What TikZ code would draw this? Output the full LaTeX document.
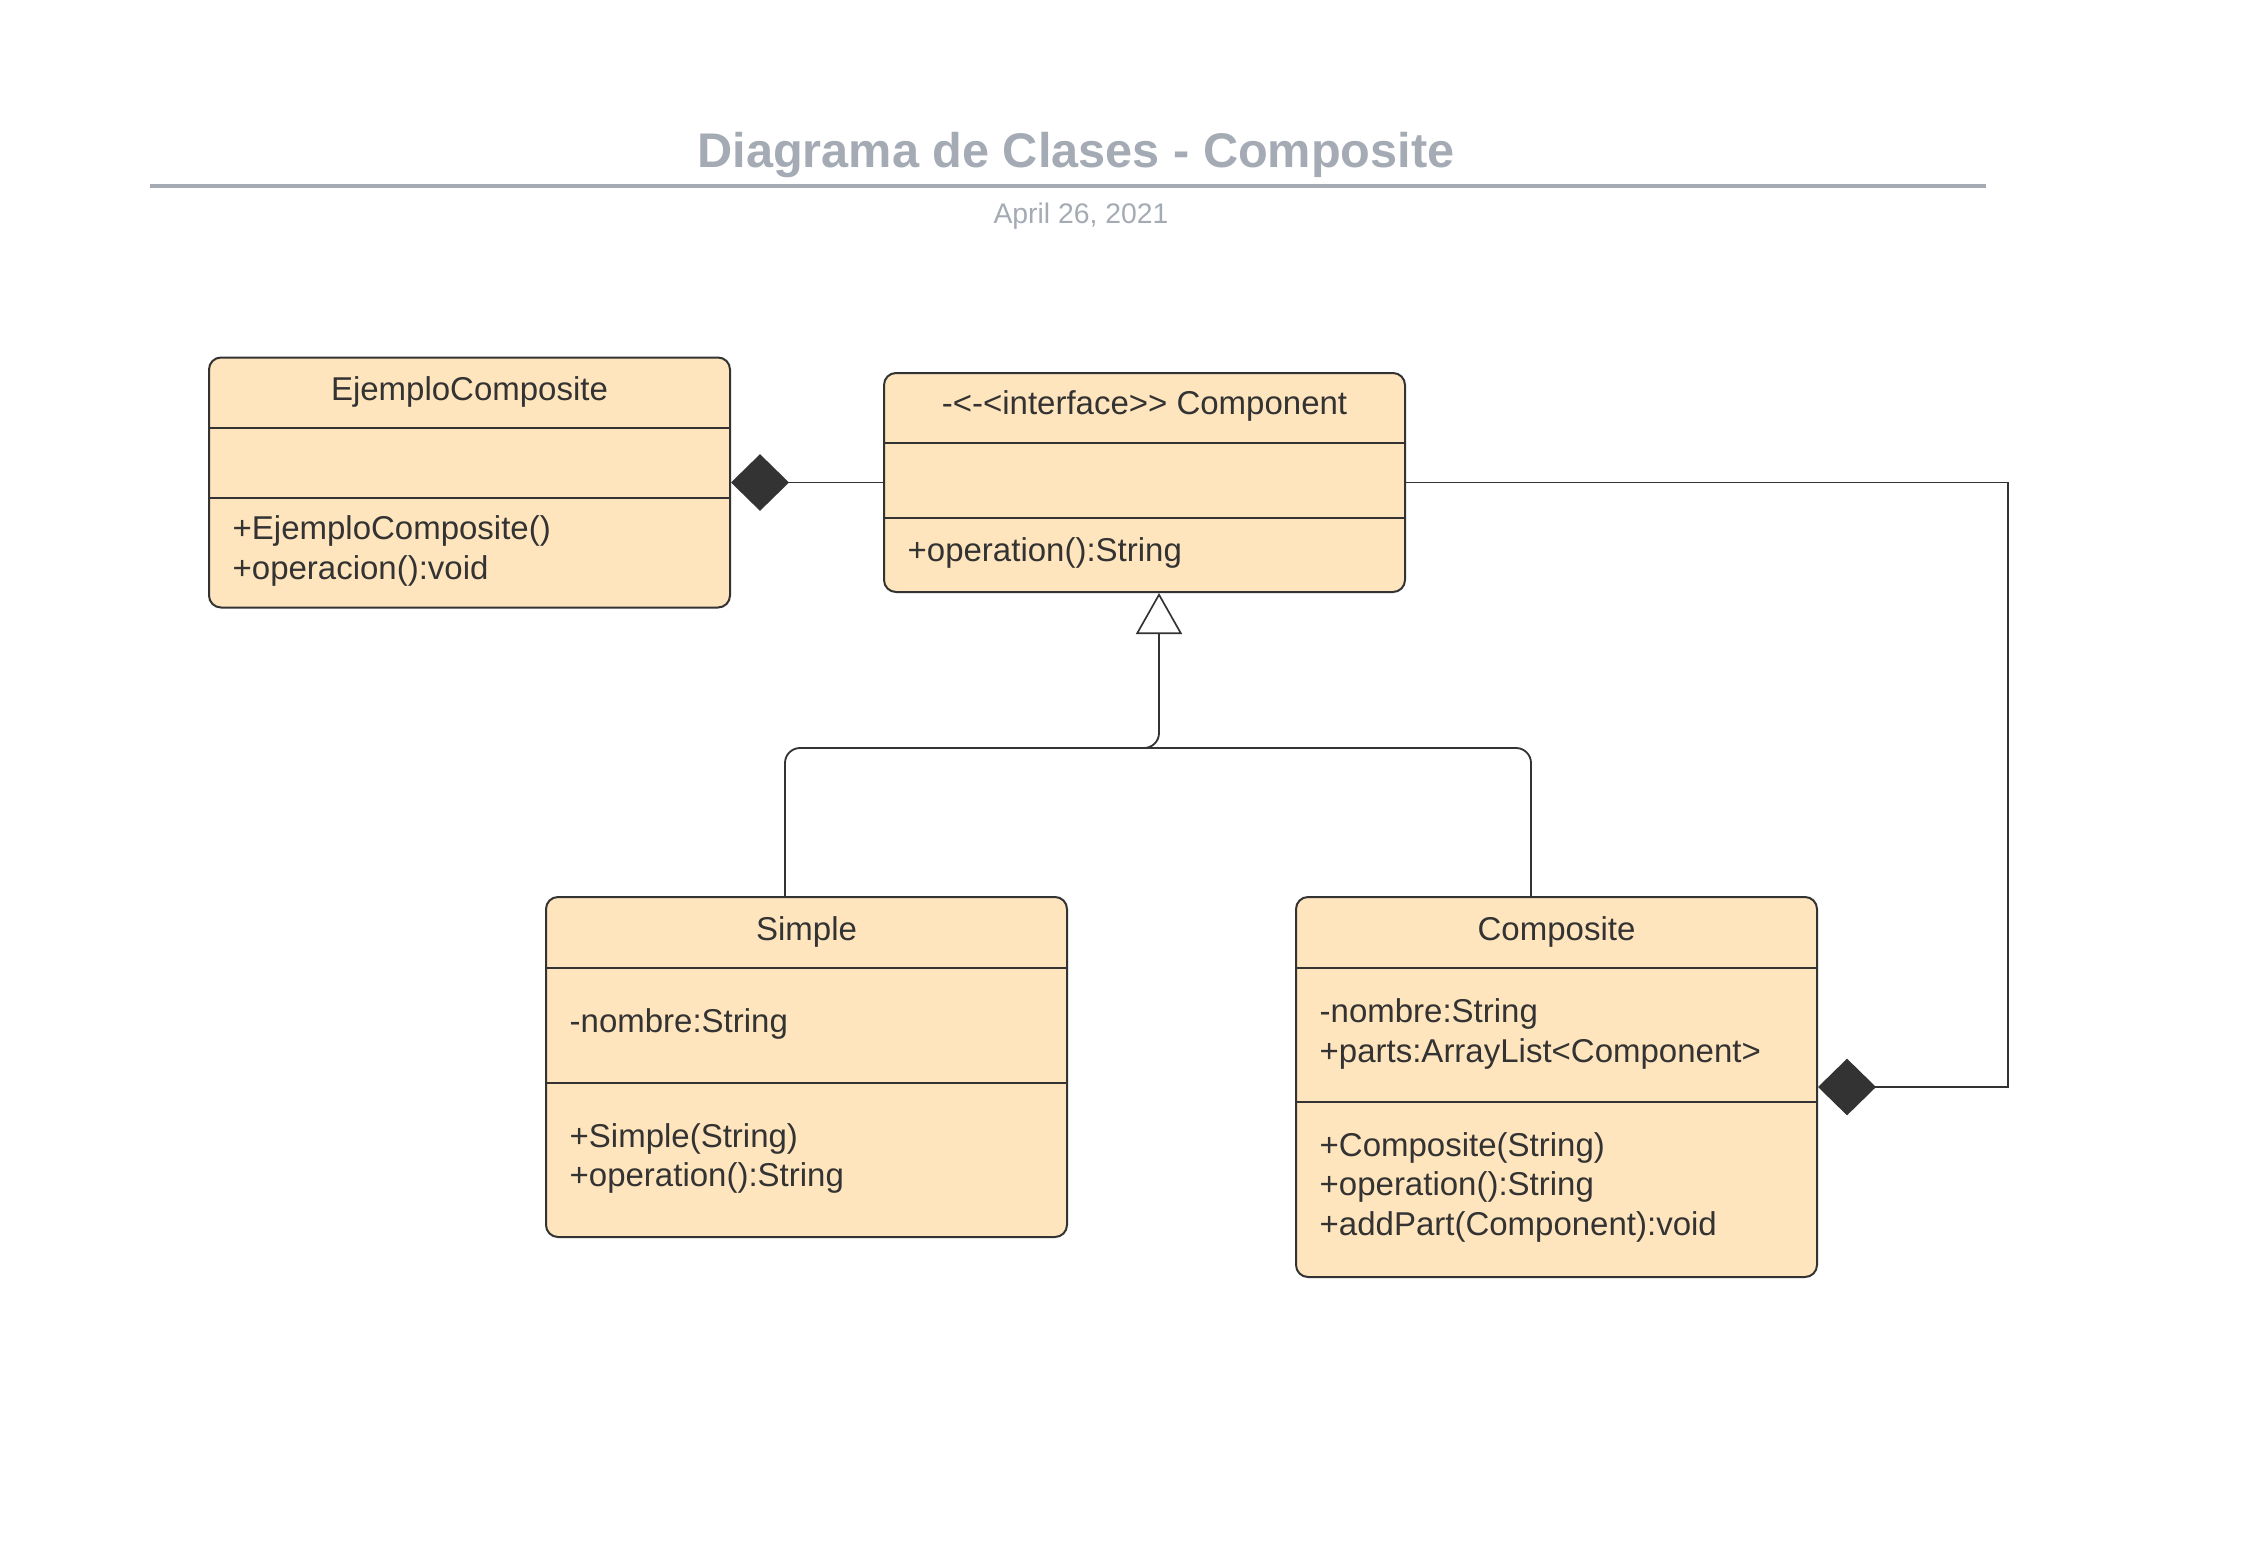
\documentclass[tikz,border=0pt]{standalone}
\usepackage{fontspec}
\setmainfont{Liberation Sans}
\usetikzlibrary{arrows.meta}
\definecolor{boxfill}{HTML}{FFE5BD}
\definecolor{ink}{HTML}{333333}
\definecolor{titlegray}{HTML}{A5ABB4}
\tikzset{
  classbox/.style={draw=ink, fill=boxfill, line width=0.6pt, rounded corners=3.6pt, minimum width=156.3pt, inner sep=0pt},
  divider/.style={draw=ink, line width=0.6pt},
  memb/.style={anchor=base west, inner sep=0pt, text=ink, font=\fontsize{9.9pt}{11pt}\selectfont},
  ctitle/.style={anchor=base, inner sep=0pt, text=ink, font=\fontsize{9.9pt}{11pt}\selectfont},
  conn/.style={draw=ink, line width=0.55pt},
  compo/.style={conn, -{Diamond[length=17.4pt, width=17pt, fill=ink, line width=0.5pt]}},
  gener/.style={conn, rounded corners=4.5pt, -{Triangle[open, length=12.3pt, width=13.8pt, fill=white, line width=0.5pt]}},
}
\begin{document}
\begin{tikzpicture}[x=0.3pt, y=-0.3pt]
\useasboundingbox (0,0) rectangle (2243,1556);

% heading
\node[anchor=base, inner sep=0pt, text=titlegray, font=\fontsize{14.6pt}{16pt}\selectfont\bfseries] (title) at (1076,168) {Diagrama de Clases - Composite};
\coordinate (ruleL) at (150,186);
\coordinate (ruleR) at (1986,186);
\draw[titlegray, line width=1.2pt] (ruleL) -- (ruleR);
\node[anchor=base, inner sep=0pt, text=titlegray, font=\fontsize{8.5pt}{10pt}\selectfont] (date) at (1081,224) {April 26, 2021};

% EjemploComposite
\node[classbox, minimum height=75pt] (ej) at (469.5,482.5) {};
\draw[divider] (ej.west |- 0,428) -- (ej.east |- 0,428);
\draw[divider] (ej.west |- 0,498) -- (ej.east |- 0,498);
\node[ctitle] (ejT) at (469.5,400) {EjemploComposite};
\node[memb] (ejM1) at (232,539) {+EjemploComposite()};
\node[memb] (ejM2) at (232,579) {+operacion():void};

% Component
\node[classbox, minimum height=65.7pt] (comp) at (1144.5,482.5) {};
\draw[divider] (comp.west |- 0,443) -- (comp.east |- 0,443);
\draw[divider] (comp.west |- 0,518) -- (comp.east |- 0,518);
\node[ctitle] (compT) at (1144.5,414) {-<-<interface>{}> Component};
\node[memb] (compM1) at (907,561) {+operation():String};

% Simple
\node[classbox, minimum height=102pt] (simple) at (806.5,1067) {};
\draw[divider] (simple.west |- 0,968) -- (simple.east |- 0,968);
\draw[divider] (simple.west |- 0,1083) -- (simple.east |- 0,1083);
\node[ctitle] (simpleT) at (806.5,940) {Simple};
\node[memb] (simpleA1) at (569,1032) {-nombre:String};
\node[memb] (simpleM1) at (569,1147) {+Simple(String)};
\node[memb] (simpleM2) at (569,1186) {+operation():String};

% Composite
\node[classbox, minimum height=114pt] (cps) at (1556.5,1087) {};
\draw[divider] (cps.west |- 0,968) -- (cps.east |- 0,968);
\draw[divider] (cps.west |- 0,1102) -- (cps.east |- 0,1102);
\node[ctitle] (cpsT) at (1556.5,940) {Composite};
\node[memb] (cpsA1) at (1319,1022) {-nombre:String};
\node[memb] (cpsA2) at (1319,1062) {+parts:ArrayList<Component>};
\node[memb] (cpsM1) at (1319,1156) {+Composite(String)};
\node[memb] (cpsM2) at (1319,1195) {+operation():String};
\node[memb] (cpsM3) at (1319,1235) {+addPart(Component):void};

% connectors
\draw[compo] (comp.west) -- (ej.east);
\coordinate (rbend) at (2008,1087);
\draw[compo] (comp.east) -| (rbend) -- (cps.east);
\coordinate (junction) at (1159,748);
\coordinate (joinend) at (1138,748);
\draw[gener] ([xshift=-6.45pt]simple.north) |- (junction) -- ([xshift=4.35pt]comp.south);
\draw[conn, rounded corners=4.5pt] ([xshift=-7.65pt]cps.north) |- (joinend);
\end{tikzpicture}
\end{document}
